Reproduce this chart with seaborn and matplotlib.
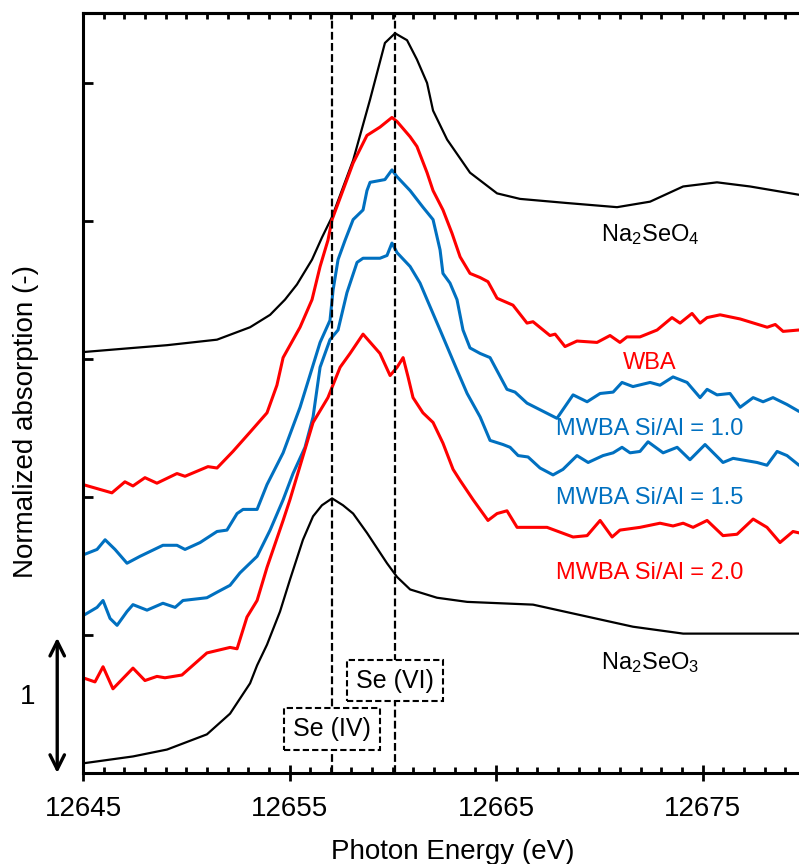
import numpy as np
import pandas as pd
import matplotlib
matplotlib.use('Agg')
import matplotlib.pyplot as plt
from matplotlib.ticker import MultipleLocator, FixedLocator, NullFormatter
import seaborn as sns

# データ (Photon Energy [eV], Normalized absorption, 縦にオフセット済み)
e_seo4 = [12645.00, 12647.42, 12649.07, 12651.49, 12653.09, 12654.06, 12654.78, 12655.36, 12656.09, 12656.57,
          12657.06, 12658.08, 12658.90, 12659.62, 12660.11, 12660.69, 12661.17, 12661.66, 12661.95, 12662.63,
          12663.74, 12665.05, 12666.16, 12668.44, 12670.86, 12672.46, 12674.06, 12675.70, 12677.30, 12679.67]
a_seo4 = [3.05, 3.08, 3.10, 3.14, 3.23, 3.32, 3.43, 3.54, 3.72, 3.88,
          4.03, 4.44, 4.88, 5.29, 5.36, 5.31, 5.17, 5.00, 4.80, 4.59,
          4.35, 4.20, 4.16, 4.13, 4.10, 4.14, 4.25, 4.28, 4.25, 4.19]

e_wba = [12645.00, 12646.40, 12647.03, 12647.42, 12648.00, 12648.58, 12649.55, 12649.94, 12651.05, 12651.49,
         12652.26, 12653.09, 12653.91, 12654.39, 12654.69, 12655.51, 12656.09, 12656.48, 12656.86, 12657.06,
         12658.08, 12658.75, 12659.38, 12659.96, 12660.21, 12660.84, 12661.17, 12661.66, 12661.95, 12662.43,
         12662.87, 12663.26, 12663.74, 12664.23, 12664.61, 12665.05, 12665.82, 12666.50, 12666.79, 12667.61,
         12667.86, 12668.34, 12668.92, 12669.89, 12670.52, 12671.00, 12671.34, 12671.97, 12672.80, 12673.52,
         12673.91, 12674.49, 12674.88, 12675.22, 12675.85, 12676.82, 12678.13, 12678.52, 12678.90, 12679.67]
a_wba = [2.09, 2.03, 2.11, 2.08, 2.14, 2.10, 2.17, 2.15, 2.22, 2.21,
         2.33, 2.47, 2.61, 2.81, 3.01, 3.23, 3.43, 3.67, 3.86, 4.01,
         4.42, 4.62, 4.68, 4.75, 4.72, 4.61, 4.54, 4.35, 4.22, 4.08,
         3.91, 3.74, 3.62, 3.59, 3.56, 3.44, 3.39, 3.26, 3.27, 3.17,
         3.18, 3.09, 3.13, 3.12, 3.17, 3.12, 3.16, 3.16, 3.21, 3.30,
         3.26, 3.33, 3.26, 3.30, 3.32, 3.29, 3.23, 3.25, 3.20, 3.21]

e_m10 = [12645.00, 12645.68, 12646.07, 12646.55, 12647.13, 12647.76, 12648.87, 12649.55, 12649.94, 12650.67,
         12651.49, 12651.97, 12652.46, 12652.75, 12653.43, 12653.91, 12654.69, 12655.51, 12656.48, 12656.96,
         12657.11, 12657.35, 12657.69, 12658.08, 12658.56, 12658.75, 12658.90, 12659.62, 12659.96, 12660.21,
         12660.84, 12661.46, 12661.95, 12662.29, 12662.43, 12662.77, 12663.11, 12663.40, 12663.74, 12664.23,
         12664.71, 12665.53, 12665.92, 12666.50, 12667.95, 12668.73, 12669.41, 12670.04, 12670.67, 12671.10,
         12671.63, 12672.46, 12672.94, 12673.57, 12674.25, 12674.88, 12675.22, 12675.70, 12676.33, 12676.82,
         12677.45, 12677.93, 12678.41, 12679.09, 12679.67]
a_m10 = [1.58, 1.62, 1.69, 1.62, 1.52, 1.57, 1.65, 1.65, 1.62, 1.67,
         1.75, 1.76, 1.88, 1.91, 1.91, 2.09, 2.32, 2.65, 3.12, 3.28,
         3.50, 3.72, 3.86, 4.01, 4.08, 4.22, 4.28, 4.30, 4.37, 4.32,
         4.22, 4.10, 4.01, 3.79, 3.62, 3.55, 3.43, 3.21, 3.08, 3.04,
         3.01, 2.78, 2.76, 2.68, 2.57, 2.74, 2.69, 2.75, 2.76, 2.83,
         2.80, 2.83, 2.81, 2.87, 2.83, 2.72, 2.78, 2.74, 2.75, 2.65,
         2.72, 2.69, 2.72, 2.67, 2.62]

e_m15 = [12645.00, 12645.68, 12645.97, 12646.31, 12646.65, 12647.13, 12647.42, 12648.10, 12648.87, 12649.46,
         12649.84, 12651.00, 12651.49, 12652.12, 12652.60, 12653.43, 12654.06, 12654.69, 12655.17, 12655.75,
         12656.14, 12656.48, 12656.96, 12657.35, 12657.78, 12658.27, 12658.56, 12659.38, 12659.72, 12659.96,
         12660.21, 12660.84, 12661.32, 12661.66, 12662.29, 12663.11, 12663.60, 12664.23, 12664.71, 12665.34,
         12665.68, 12666.07, 12666.55, 12667.13, 12667.76, 12668.24, 12668.92, 12669.46, 12670.18, 12670.67,
         12671.10, 12671.49, 12671.97, 12672.36, 12673.09, 12673.77, 12674.39, 12675.12, 12675.99, 12676.48,
         12677.64, 12678.12, 12678.61, 12679.09, 12679.67]
a_m15 = [1.14, 1.20, 1.25, 1.12, 1.07, 1.17, 1.22, 1.18, 1.23, 1.20,
         1.25, 1.27, 1.31, 1.36, 1.45, 1.57, 1.76, 1.98, 2.17, 2.36,
         2.58, 2.94, 3.14, 3.21, 3.48, 3.70, 3.73, 3.73, 3.75, 3.84,
         3.77, 3.67, 3.55, 3.43, 3.21, 2.92, 2.75, 2.58, 2.41, 2.38,
         2.36, 2.30, 2.29, 2.21, 2.16, 2.20, 2.30, 2.25, 2.30, 2.32,
         2.36, 2.32, 2.33, 2.40, 2.32, 2.36, 2.27, 2.38, 2.25, 2.28,
         2.25, 2.23, 2.33, 2.30, 2.23]

e_m20 = [12645.00, 12645.58, 12645.97, 12646.45, 12647.42, 12648.00, 12648.58, 12648.97, 12649.79, 12651.00,
         12652.12, 12652.46, 12652.94, 12653.43, 12653.91, 12654.69, 12655.02, 12656.14, 12656.86, 12657.45,
         12657.93, 12658.56, 12659.38, 12659.87, 12660.21, 12660.50, 12660.74, 12660.98, 12661.46, 12661.95,
         12662.43, 12662.92, 12663.26, 12663.89, 12664.61, 12665.05, 12665.53, 12666.02, 12667.47, 12668.73,
         12669.41, 12670.04, 12670.62, 12671.00, 12671.97, 12672.94, 12673.57, 12674.06, 12674.54, 12675.22,
         12675.99, 12676.67, 12677.45, 12678.12, 12678.75, 12679.38, 12679.67]
a_m20 = [0.69, 0.66, 0.77, 0.61, 0.76, 0.67, 0.70, 0.69, 0.71, 0.87,
         0.91, 0.90, 1.13, 1.25, 1.49, 1.83, 1.98, 2.54, 2.72, 2.94,
         3.04, 3.18, 3.04, 2.88, 2.94, 3.01, 2.87, 2.72, 2.61, 2.54,
         2.39, 2.20, 2.12, 1.98, 1.83, 1.88, 1.90, 1.78, 1.78, 1.71,
         1.72, 1.83, 1.71, 1.76, 1.78, 1.81, 1.79, 1.81, 1.78, 1.83,
         1.72, 1.73, 1.84, 1.78, 1.67, 1.75, 1.74]

e_seo3 = [12645.00, 12647.42, 12649.07, 12651.00, 12652.12, 12653.09, 12653.43, 12653.91, 12654.54, 12655.02,
          12655.65, 12656.14, 12656.57, 12657.06, 12657.59, 12658.08, 12658.75, 12659.72, 12660.21, 12660.84,
          12662.14, 12663.60, 12665.19, 12666.79, 12669.21, 12671.63, 12674.06, 12676.48, 12679.67]
a_seo3 = [0.07, 0.12, 0.17, 0.28, 0.43, 0.65, 0.78, 0.93, 1.17, 1.40,
          1.69, 1.86, 1.94, 1.99, 1.94, 1.88, 1.74, 1.52, 1.42, 1.33,
          1.27, 1.24, 1.23, 1.22, 1.14, 1.06, 1.01, 1.01, 1.01]

labels = ['Na$_2$SeO$_4$', 'WBA', 'MWBA Si/Al = 1.0', 'MWBA Si/Al = 1.5', 'MWBA Si/Al = 2.0', 'Na$_2$SeO$_3$']
label_y = [3.90, 2.97, 2.49, 1.99, 1.45, 0.80]
label_colors = ['black', '#FF0000', '#0070C0', '#0070C0', '#FF0000', 'black']

se4_energy = 12657.05
se6_energy = 12660.1

sns.set_theme(style='ticks', rc={'axes.edgecolor': 'black', 'xtick.color': 'black', 'ytick.color': 'black',
                                 'text.color': 'black', 'axes.labelcolor': 'black'})
plt.rcParams['font.family'] = ['Liberation Sans', 'DejaVu Sans']
plt.rcParams['mathtext.fontset'] = 'custom'
plt.rcParams['mathtext.rm'] = 'Liberation Sans'
plt.rcParams['mathtext.default'] = 'regular'

fig = plt.figure(figsize=(7.99, 8.64), dpi=100)
ax = fig.add_axes([83 / 799, 91 / 864, 716 / 799, 760 / 864])

curves = [(e_seo4, a_seo4, 'black', 1.6),
          (e_wba, a_wba, '#FF0000', 2.2),
          (e_m10, a_m10, '#0070C0', 2.2),
          (e_m15, a_m15, '#0070C0', 2.2),
          (e_m20, a_m20, '#FF0000', 2.2),
          (e_seo3, a_seo3, 'black', 1.6)]
for e, a, c, w in curves:
    sns.lineplot(x=e, y=a, ax=ax, color=c, lw=w, sort=False, estimator=None,
                 solid_joinstyle='round', solid_capstyle='round')

# 価数の目安線
for xv in [se4_energy, se6_energy]:
    ax.axvline(xv, color='black', lw=1.6, ls=(0, (3.5, 1.5)), zorder=3)

box = dict(boxstyle='square,pad=0.35', fc='white', ec='black', lw=1.5, ls=(0, (3, 1.5)))
ax.text(se4_energy, 0.32, 'Se (IV)', ha='center', va='center', fontsize=18, bbox=box, zorder=5)
ax.text(se6_energy, 0.67, 'Se (VI)', ha='center', va='center', fontsize=18, bbox=box, zorder=5)

for t, y, c in zip(labels, label_y, label_colors):
    ax.text(12672.45, y, t, ha='center', va='center', fontsize=17, color=c)

ax.set_xlim(12645, 12679.67)
ax.set_ylim(0, 5.507)

ax.xaxis.set_major_locator(FixedLocator([12645, 12655, 12665, 12675]))
ax.xaxis.set_minor_locator(MultipleLocator(1))
ax.yaxis.set_major_locator(FixedLocator([1, 2, 3, 4, 5]))
ax.yaxis.set_major_formatter(NullFormatter())
ax.tick_params(axis='x', which='major', direction='inout', length=11, width=2, labelsize=20, pad=11)
ax.tick_params(axis='x', which='minor', direction='in', length=4.5, width=2)
ax.tick_params(axis='y', which='major', direction='in', length=7, width=2)

top = ax.secondary_xaxis('top')
top.xaxis.set_major_locator(MultipleLocator(1))
top.xaxis.set_major_formatter(NullFormatter())
top.tick_params(direction='in', length=4.5, width=2)
top.spines['top'].set_linewidth(2.2)

for s in ['top', 'left', 'bottom']:
    ax.spines[s].set_linewidth(2.2)
ax.spines['right'].set_visible(False)

ax.set_xlabel('Photon Energy (eV)', fontsize=20)
ax.set_ylabel('Normalized absorption (-)', fontsize=20)
ax.xaxis.set_label_coords(0.517, -0.087)
ax.yaxis.set_label_coords(-0.062, 0.463)

# スケールバー
ax.annotate('', xy=(-0.036, 0.0), xytext=(-0.036, 0.98),
            xycoords=('axes fraction', 'data'), textcoords=('axes fraction', 'data'),
            arrowprops=dict(arrowstyle='<->', lw=2.4, color='black', mutation_scale=26,
                            shrinkA=0, shrinkB=0), annotation_clip=False)
ax.text(-0.077, 0.55, '1', transform=ax.get_yaxis_transform(), ha='center', va='center', fontsize=20)

fig.savefig('out.png', dpi=100)
